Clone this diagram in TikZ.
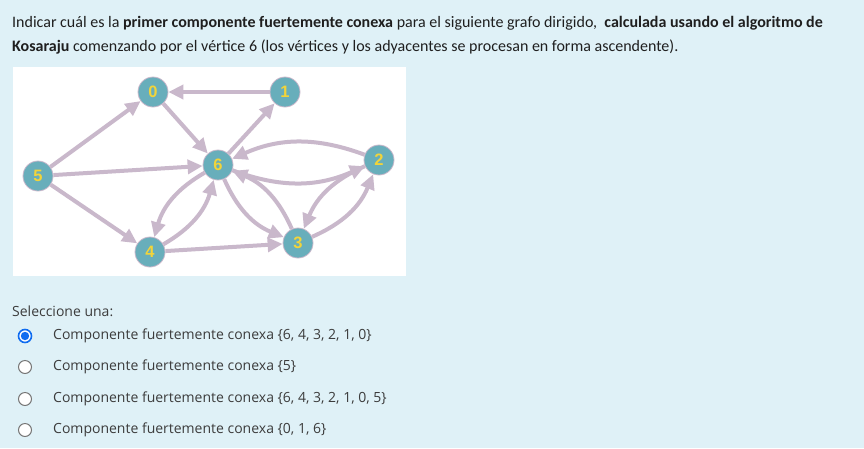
\documentclass[tikz,border=0pt]{standalone}
\usepackage{fontspec}
\setmainfont{Carlito}
\newfontfamily\optfont{Open Sans}
\newfontfamily\vxfont{Liberation Sans}
\usetikzlibrary{arrows.meta}
\definecolor{pagebg}{HTML}{DFF1F7}
\definecolor{vfill}{HTML}{68AEBB}
\definecolor{vtext}{HTML}{F2D43A}
\definecolor{edgecol}{HTML}{C9B8CB}
\definecolor{optgray}{HTML}{3C3C3C}
\definecolor{radioblue}{HTML}{0F6CF0}
\definecolor{radiogray}{HTML}{767676}

\begin{document}
\begin{tikzpicture}[x=1pt, y=-1pt,
    vertex/.style={circle, fill=vfill, draw=edgecol, line width=0.8pt, minimum size=30pt, inner sep=0pt,
      font=\vxfont\bfseries\fontsize{16.5}{16.5}\selectfont, text=vtext},
    arc/.style={-{Triangle[length=15pt,width=14pt]}, draw=edgecol, line width=4pt},
    opt/.style={anchor=west, inner sep=0pt, font=\optfont\fontsize{14}{16}\selectfont, text=optgray},
    radio/.style={circle, draw=radiogray, fill=white, line width=1pt, minimum size=13pt, inner sep=0pt}
  ]
  \fill[pagebg] (0,0) rectangle (864,448);
  \useasboundingbox (0,0) rectangle (864,448);

  \node[anchor=base west, inner sep=0pt, align=left, font=\fontsize{16}{24.5}\selectfont, text=black!88] (question) at (12,51.5)
    {Indicar cuál es la \textbf{primer componente fuertemente conexa} para el siguiente grafo dirigido,\ \ \textbf{calculada usando el algoritmo de}\\
     \textbf{Kosaraju} comenzando por el vértice 6 (los vértices y los adyacentes se procesan en forma ascendente).};

  % graph
  \fill[white] (12.5,67) rectangle (406,275.5);
  \node[vertex] (v0) at (153,92) {0};
  \node[vertex] (v1) at (285,92) {1};
  \node[vertex] (v2) at (379,160) {2};
  \node[vertex] (v3) at (298,243) {3};
  \node[vertex] (v4) at (150,252) {4};
  \node[vertex] (v5) at (38,176) {5};
  \node[vertex] (v6) at (218,165) {6};

  \draw[arc] (v5) -- (v0);
  \draw[arc] (v5) -- (v6);
  \draw[arc] (v5) -- (v4);
  \draw[arc] (v1) -- (v0);
  \draw[arc] (v0) -- (v6);
  \draw[arc] (v6) -- (v1);
  \draw[arc] (v4) -- (v3);
  \draw[arc] (v6) to[bend right=22] (v4);
  \draw[arc] (v4) to[bend right=22] (v6);
  \draw[arc] (v6) to[bend right=22] (v3);
  \draw[arc] (v3) to[bend right=22] (v6);
  \draw[arc] (v2) to[bend right=22] (v6);
  \draw[arc] (v6) to[bend right=22] (v2);
  \draw[arc] (v2) to[bend right=22] (v3);
  \draw[arc] (v3) to[bend right=22] (v2);

  % answers
  \node[opt] (choose) at (12,311) {Seleccione una:};
  \node[radio, draw=radioblue, line width=1.6pt] (r1) at (25,336) {};
  \fill[radioblue] (r1.center) circle (4.2);
  \node[radio] (r2) at (25,367) {};
  \node[radio] (r3) at (25,399) {};
  \node[radio] (r4) at (25,430) {};
  \node[opt] (a1) at (53,336) {Componente fuertemente conexa \{6, 4, 3, 2, 1, 0\}};
  \node[opt] (a2) at (53,367) {Componente fuertemente conexa \{5\}};
  \node[opt] (a3) at (53,399) {Componente fuertemente conexa \{6, 4, 3, 2, 1, 0, 5\}};
  \node[opt] (a4) at (53,430) {Componente fuertemente conexa \{0, 1, 6\}};
\end{tikzpicture}
\end{document}
